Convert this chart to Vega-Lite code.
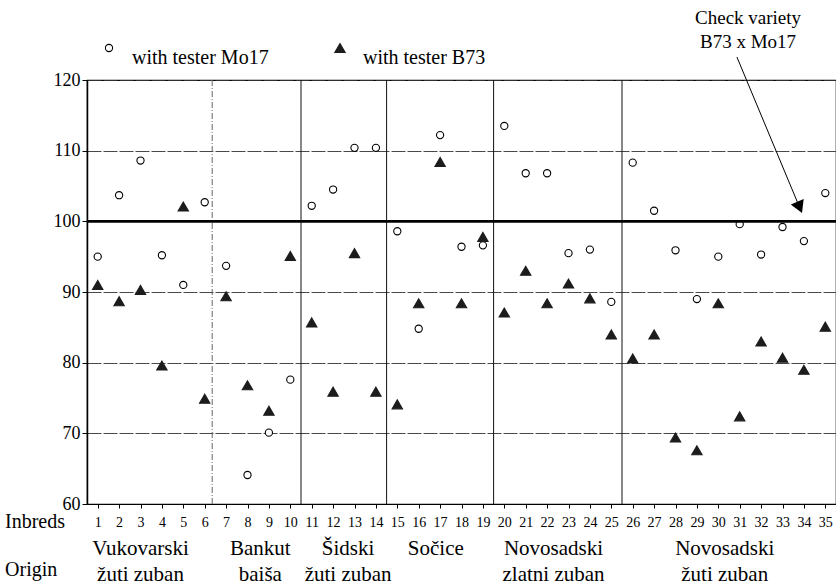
{
  "$schema": "https://vega.github.io/schema/vega-lite/v6.json",
  "width": 749,
  "height": 424,
  "autosize": {"type": "none"},
  "padding": {"left": 87, "top": 80, "right": 0, "bottom": 82},
  "background": "white",
  "config": {
    "font": "Liberation Serif",
    "view": {"stroke": "black", "strokeWidth": 1.2}
  },
  "resolve": {"axis": {"x": "independent", "y": "independent"}},
  "datasets": {
    "scores": [
      {"inbred": 1, "tester": "Mo17", "value": 95.0}, {"inbred": 1, "tester": "B73", "value": 91.0},
      {"inbred": 2, "tester": "Mo17", "value": 103.7}, {"inbred": 2, "tester": "B73", "value": 88.7},
      {"inbred": 3, "tester": "Mo17", "value": 108.6}, {"inbred": 3, "tester": "B73", "value": 90.3},
      {"inbred": 4, "tester": "Mo17", "value": 95.2}, {"inbred": 4, "tester": "B73", "value": 79.6},
      {"inbred": 5, "tester": "Mo17", "value": 91.0}, {"inbred": 5, "tester": "B73", "value": 102.1},
      {"inbred": 6, "tester": "Mo17", "value": 102.7}, {"inbred": 6, "tester": "B73", "value": 74.9},
      {"inbred": 7, "tester": "Mo17", "value": 93.7}, {"inbred": 7, "tester": "B73", "value": 89.4},
      {"inbred": 8, "tester": "Mo17", "value": 64.1}, {"inbred": 8, "tester": "B73", "value": 76.8},
      {"inbred": 9, "tester": "Mo17", "value": 70.1}, {"inbred": 9, "tester": "B73", "value": 73.2},
      {"inbred": 10, "tester": "Mo17", "value": 77.6}, {"inbred": 10, "tester": "B73", "value": 95.1},
      {"inbred": 11, "tester": "Mo17", "value": 102.2}, {"inbred": 11, "tester": "B73", "value": 85.7},
      {"inbred": 12, "tester": "Mo17", "value": 104.5}, {"inbred": 12, "tester": "B73", "value": 75.9},
      {"inbred": 13, "tester": "Mo17", "value": 110.4}, {"inbred": 13, "tester": "B73", "value": 95.5},
      {"inbred": 14, "tester": "Mo17", "value": 110.4}, {"inbred": 14, "tester": "B73", "value": 75.9},
      {"inbred": 15, "tester": "Mo17", "value": 98.6}, {"inbred": 15, "tester": "B73", "value": 74.1},
      {"inbred": 16, "tester": "Mo17", "value": 84.8}, {"inbred": 16, "tester": "B73", "value": 88.4},
      {"inbred": 17, "tester": "Mo17", "value": 112.2}, {"inbred": 17, "tester": "B73", "value": 108.4},
      {"inbred": 18, "tester": "Mo17", "value": 96.4}, {"inbred": 18, "tester": "B73", "value": 88.4},
      {"inbred": 19, "tester": "Mo17", "value": 96.6}, {"inbred": 19, "tester": "B73", "value": 97.8},
      {"inbred": 20, "tester": "Mo17", "value": 113.5}, {"inbred": 20, "tester": "B73", "value": 87.1},
      {"inbred": 21, "tester": "Mo17", "value": 106.8}, {"inbred": 21, "tester": "B73", "value": 93.0},
      {"inbred": 22, "tester": "Mo17", "value": 106.8}, {"inbred": 22, "tester": "B73", "value": 88.4},
      {"inbred": 23, "tester": "Mo17", "value": 95.5}, {"inbred": 23, "tester": "B73", "value": 91.2},
      {"inbred": 24, "tester": "Mo17", "value": 96.0}, {"inbred": 24, "tester": "B73", "value": 89.1},
      {"inbred": 25, "tester": "Mo17", "value": 88.6}, {"inbred": 25, "tester": "B73", "value": 84.0},
      {"inbred": 26, "tester": "Mo17", "value": 108.3}, {"inbred": 26, "tester": "B73", "value": 80.6},
      {"inbred": 27, "tester": "Mo17", "value": 101.5}, {"inbred": 27, "tester": "B73", "value": 84.0},
      {"inbred": 28, "tester": "Mo17", "value": 95.9}, {"inbred": 28, "tester": "B73", "value": 69.4},
      {"inbred": 29, "tester": "Mo17", "value": 89.0}, {"inbred": 29, "tester": "B73", "value": 67.6},
      {"inbred": 30, "tester": "Mo17", "value": 95.0}, {"inbred": 30, "tester": "B73", "value": 88.4},
      {"inbred": 31, "tester": "Mo17", "value": 99.6}, {"inbred": 31, "tester": "B73", "value": 72.4},
      {"inbred": 32, "tester": "Mo17", "value": 95.3}, {"inbred": 32, "tester": "B73", "value": 83.0},
      {"inbred": 33, "tester": "Mo17", "value": 99.2}, {"inbred": 33, "tester": "B73", "value": 80.7},
      {"inbred": 34, "tester": "Mo17", "value": 97.2}, {"inbred": 34, "tester": "B73", "value": 79.0},
      {"inbred": 35, "tester": "Mo17", "value": 104.0}, {"inbred": 35, "tester": "B73", "value": 85.1}
    ],
    "origins": [
      {"line1": "Vukovarski", "line2": "žuti zuban", "center": 3.0},
      {"line1": "Bankut", "line2": "baiša", "center": 8.6},
      {"line1": "Šidski", "line2": "žuti zuban", "center": 12.7},
      {"line1": "Sočice", "line2": "", "center": 16.8},
      {"line1": "Novosadski", "line2": "zlatni zuban", "center": 22.3},
      {"line1": "Novosadski", "line2": "žuti zuban", "center": 30.3}
    ],
    "dividers": [
      {"between": 6.35, "style": "dotted"},
      {"between": 10.5, "style": "solid"},
      {"between": 14.5, "style": "solid"},
      {"between": 19.5, "style": "solid"},
      {"between": 25.5, "style": "solid"}
    ],
    "one": [{}]
  },
  "layer": [
    {
      "data": {"name": "scores"},
      "mark": {"type": "point", "opacity": 1, "strokeWidth": 1.1},
      "encoding": {
        "x": {"field": "inbred", "type": "quantitative", "title": null, "scale": {"domain": [0.5, 35.5], "nice": false, "zero": false},
          "axis": {"values": [1,2,3,4,5,6,7,8,9,10,11,12,13,14,15,16,17,18,19,20,21,22,23,24,25,26,27,28,29,30,31,32,33,34,35], "title": null, "labelFont": "Liberation Serif", "labelFontSize": 14, "labelColor": "black", "labelPadding": 7, "tickSize": 4, "tickColor": "black", "grid": false, "labelAngle": 0, "domainColor": "black", "domainWidth": 1.2, "format": "d", "labelFlush": false, "labelOverlap": false, "labelSeparation": 0}},
        "y": {"field": "value", "type": "quantitative", "title": null, "scale": {"domain": [60, 120], "nice": false, "zero": false},
          "axis": {"values": [60, 70, 80, 90, 100, 110, 120], "title": null, "labelFont": "Liberation Serif", "labelFontSize": 18, "labelColor": "black", "tickSize": 5, "tickColor": "black", "domainColor": "black", "domainWidth": 1.5, "grid": true, "gridColor": "#333333", "gridWidth": 0.9, "gridDash": [14, 2], "labelPadding": 2}},
        "shape": {"field": "tester", "type": "nominal", "scale": {"domain": ["Mo17", "B73"], "range": ["circle", "triangle-up"]},
          "legend": {"orient": "none", "legendX": 12, "legendY": -42, "direction": "horizontal", "title": null, "labelExpr": "'with tester ' + datum.label", "labelFont": "Liberation Serif", "labelFontSize": 20, "labelColor": "black", "labelBaseline": "top", "labelOffset": 13, "columnPadding": 61, "symbolStrokeWidth": 1.1, "padding": 0}},
        "fill": {"field": "tester", "type": "nominal", "scale": {"domain": ["Mo17", "B73"], "range": ["white", "#1c1c1c"]}},
        "stroke": {"field": "tester", "type": "nominal", "scale": {"domain": ["Mo17", "B73"], "range": ["black", "#1c1c1c"]}},
        "size": {"field": "tester", "type": "nominal", "scale": {"domain": ["Mo17", "B73"], "range": [52, 108]}}
      }
    },
    {
      "data": {"name": "dividers"},
      "mark": {"type": "rule", "strokeWidth": 1},
      "encoding": {
        "x": {"field": "between", "type": "quantitative", "axis": null, "scale": {"domain": [0.5, 35.5], "nice": false, "zero": false}},
        "strokeDash": {"field": "style", "type": "nominal", "scale": {"domain": ["dotted", "solid"], "range": [[6, 2, 1, 2], [1, 0]]}, "legend": null},
        "color": {"field": "style", "type": "nominal", "scale": {"domain": ["dotted", "solid"], "range": ["#666666", "#111111"]}, "legend": null}
      }
    },
    {
      "data": {"name": "one"},
      "mark": {"type": "rule", "strokeWidth": 2.6, "color": "black"},
      "encoding": {
        "y": {"datum": 100, "type": "quantitative", "axis": null, "scale": {"domain": [60, 120], "nice": false, "zero": false}}
      }
    },
    {
      "data": {"name": "origins"},
      "mark": {"type": "text", "fontSize": 21, "align": "center", "baseline": "middle", "color": "black"},
      "encoding": {
        "x": {"field": "center", "type": "quantitative", "axis": null, "scale": {"domain": [0.5, 35.5], "nice": false, "zero": false}},
        "y": {"datum": 53.6, "type": "quantitative", "axis": null, "scale": {"domain": [60, 120], "nice": false, "zero": false}},
        "text": {"field": "line1", "type": "nominal"}
      }
    },
    {
      "data": {"name": "origins"},
      "mark": {"type": "text", "fontSize": 21, "align": "center", "baseline": "middle", "color": "black"},
      "encoding": {
        "x": {"field": "center", "type": "quantitative", "axis": null, "scale": {"domain": [0.5, 35.5], "nice": false, "zero": false}},
        "y": {"datum": 49.9, "type": "quantitative", "axis": null, "scale": {"domain": [60, 120], "nice": false, "zero": false}},
        "text": {"field": "line2", "type": "nominal"}
      }
    },
    {
      "data": {"name": "one"},
      "mark": {"type": "text", "fontSize": 20, "align": "left", "baseline": "middle", "color": "black", "text": "Inbreds"},
      "encoding": {
        "x": {"datum": -3.33, "type": "quantitative", "axis": null, "scale": {"domain": [0.5, 35.5], "nice": false, "zero": false}},
        "y": {"datum": 57.45, "type": "quantitative", "axis": null, "scale": {"domain": [60, 120], "nice": false, "zero": false}}
      }
    },
    {
      "data": {"name": "one"},
      "mark": {"type": "text", "fontSize": 20, "align": "left", "baseline": "middle", "color": "black", "text": "Origin"},
      "encoding": {
        "x": {"datum": -3.33, "type": "quantitative", "axis": null, "scale": {"domain": [0.5, 35.5], "nice": false, "zero": false}},
        "y": {"datum": 50.7, "type": "quantitative", "axis": null, "scale": {"domain": [60, 120], "nice": false, "zero": false}}
      }
    },
    {
      "data": {"name": "one"},
      "mark": {"type": "text", "fontSize": 19, "align": "center", "baseline": "middle", "color": "black", "text": "Check variety"},
      "encoding": {
        "x": {"datum": 31.39, "type": "quantitative", "axis": null, "scale": {"domain": [0.5, 35.5], "nice": false, "zero": false}},
        "y": {"datum": 128.77, "type": "quantitative", "axis": null, "scale": {"domain": [60, 120], "nice": false, "zero": false}}
      }
    },
    {
      "data": {"name": "one"},
      "mark": {"type": "text", "fontSize": 19, "align": "center", "baseline": "middle", "color": "black", "text": "B73 x Mo17"},
      "encoding": {
        "x": {"datum": 31.39, "type": "quantitative", "axis": null, "scale": {"domain": [0.5, 35.5], "nice": false, "zero": false}},
        "y": {"datum": 125.38, "type": "quantitative", "axis": null, "scale": {"domain": [60, 120], "nice": false, "zero": false}}
      }
    },
    {
      "data": {"name": "one"},
      "mark": {"type": "rule", "strokeWidth": 1, "color": "black"},
      "encoding": {
        "x": {"datum": 30.87, "type": "quantitative", "axis": null, "scale": {"domain": [0.5, 35.5], "nice": false, "zero": false}},
        "y": {"datum": 123.25, "type": "quantitative", "axis": null, "scale": {"domain": [60, 120], "nice": false, "zero": false}},
        "x2": {"datum": 33.8},
        "y2": {"datum": 101.97}
      }
    },
    {
      "data": {"name": "one"},
      "mark": {"type": "point", "shape": "triangle-down", "filled": true, "color": "black", "opacity": 1, "size": 196, "angle": 337},
      "encoding": {
        "x": {"datum": 33.8, "type": "quantitative", "axis": null, "scale": {"domain": [0.5, 35.5], "nice": false, "zero": false}},
        "y": {"datum": 101.97, "type": "quantitative", "axis": null, "scale": {"domain": [60, 120], "nice": false, "zero": false}}
      }
    }
  ]
}
